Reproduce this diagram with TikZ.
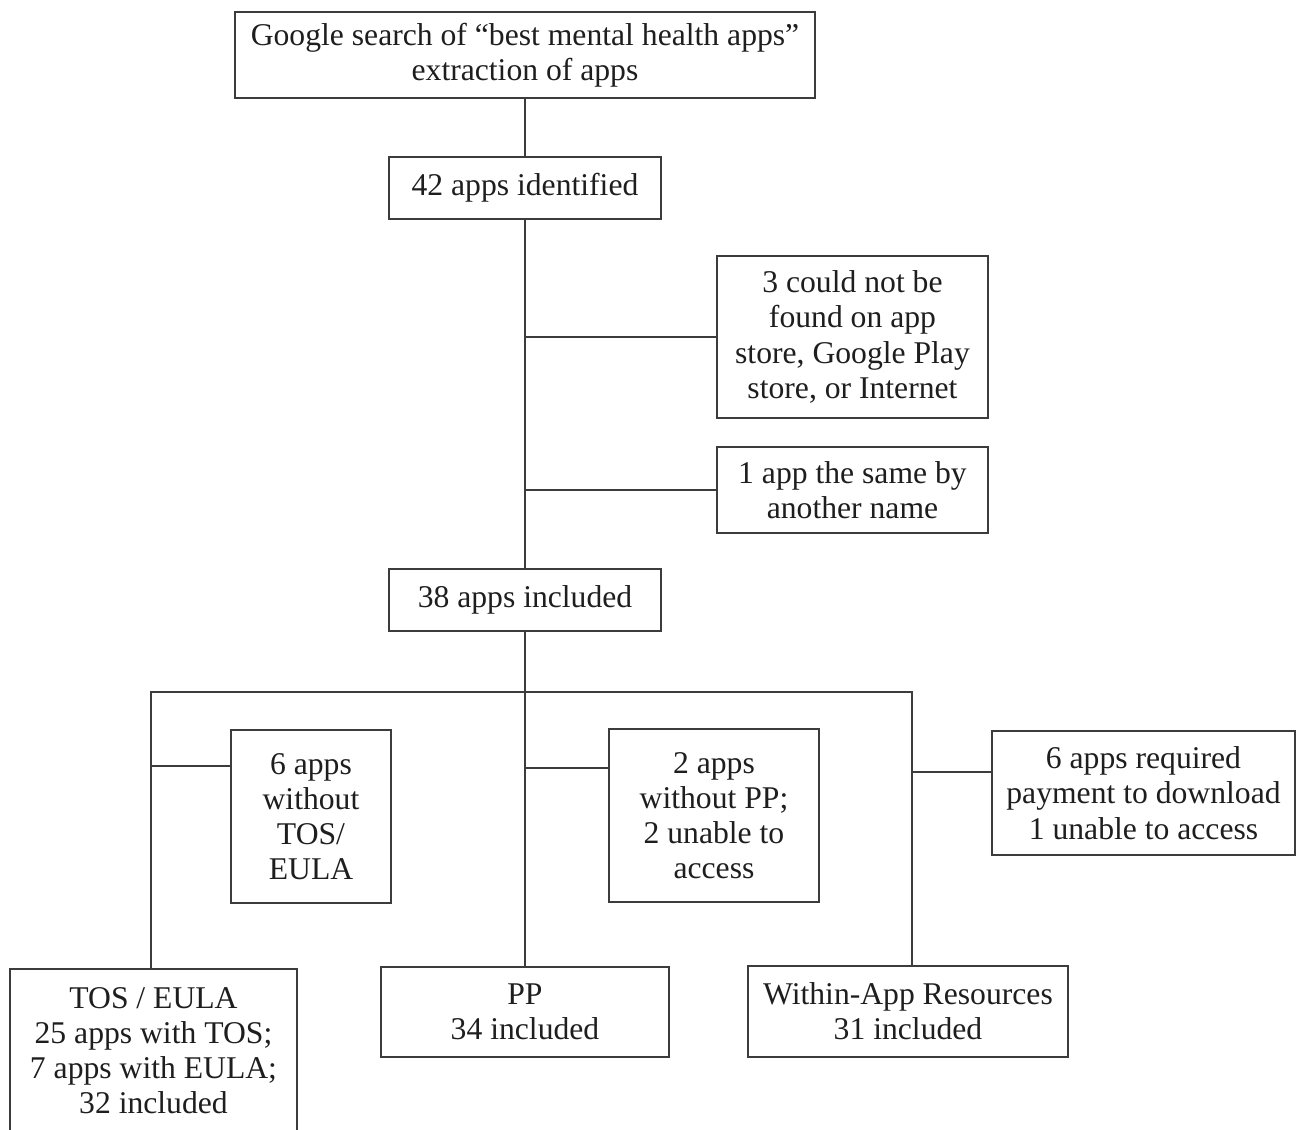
\documentclass[tikz,border=0pt]{standalone}
\usepackage{fontspec}
\setmainfont{Liberation Serif}
\usetikzlibrary{positioning}
\definecolor{flowline}{HTML}{3C3C3C}
\definecolor{flowtext}{HTML}{1E1E1E}

\begin{document}
\begin{tikzpicture}[x=0.01cm, y=-0.01cm,
  etape/.style={rectangle, draw=flowline, line width=0.6pt, align=center, inner sep=0pt, text=flowtext, font=\fontsize{9}{10}\selectfont},
  lien/.style={draw=flowline, line width=0.6pt}]
  \useasboundingbox (0,0) rectangle (1296,1130);
  % main trunk
  \node[etape, minimum width=5.79cm, minimum height=0.86cm] (recherche) at (525,55) {Google search of “best mental health apps”\\extraction of apps};
  \node[etape, minimum width=2.71cm, minimum height=0.62cm] (n42) at (525,188) {42 apps identified};
  \node[etape, minimum width=2.71cm, minimum height=1.62cm] (introuvable) at (852.5,337) {3 could not be\\found on app\\store, Google Play\\store, or Internet};
  \node[etape, minimum width=2.71cm, minimum height=0.86cm] (doublon) at (852.5,490) {1 app the same by\\another name};
  \node[etape, minimum width=2.71cm, minimum height=0.62cm] (n38) at (525,600) {38 apps included};
  % exclusions
  \node[etape, minimum width=1.60cm, minimum height=1.73cm] (sansTOS) at (311,816.5) {6 apps\\without\\TOS/\\EULA};
  \node[etape, minimum width=2.10cm, minimum height=1.73cm] (sansPP) at (714,815.5) {2 apps\\without PP;\\2 unable to\\access};
  \node[etape, minimum width=3.03cm, minimum height=1.24cm] (payant) at (1143.5,793) {6 apps required\\payment to download\\1 unable to access};
  % results
  \node[etape, minimum width=2.87cm, minimum height=1.63cm] (tos) at (153.5,1050.5) {TOS / EULA\\25 apps with TOS;\\7 apps with EULA;\\32 included};
  \node[etape, minimum width=2.87cm, minimum height=0.90cm] (pp) at (525,1012) {PP\\34 included};
  \node[etape, minimum width=3.20cm, minimum height=0.91cm] (ressources) at (908,1011.5) {Within-App Resources\\31 included};

  \draw[lien] (recherche) -- (n42);
  \draw[lien] (n42) -- (n38);
  \draw[lien] (introuvable.west) -- (introuvable.west -| n42);
  \draw[lien] (doublon.west) -- (doublon.west -| n42);

  \coordinate (gauche) at (151,692);
  \coordinate (droite) at (912,692);
  \draw[lien] (n38) -- (pp);
  \draw[lien] (gauche |- tos.north) -- (gauche) -- (droite) -- (droite |- ressources.north);

  \coordinate (jTOS) at ([yshift=-0.37cm]sansTOS.north west);
  \coordinate (jPP) at ([yshift=-0.40cm]sansPP.north west);
  \coordinate (jPay) at ([yshift=-0.42cm]payant.north west);
  \draw[lien] (jTOS) -- (jTOS -| gauche);
  \draw[lien] (jPP) -- (jPP -| n38);
  \draw[lien] (jPay) -- (jPay -| droite);
\end{tikzpicture}
\end{document}
